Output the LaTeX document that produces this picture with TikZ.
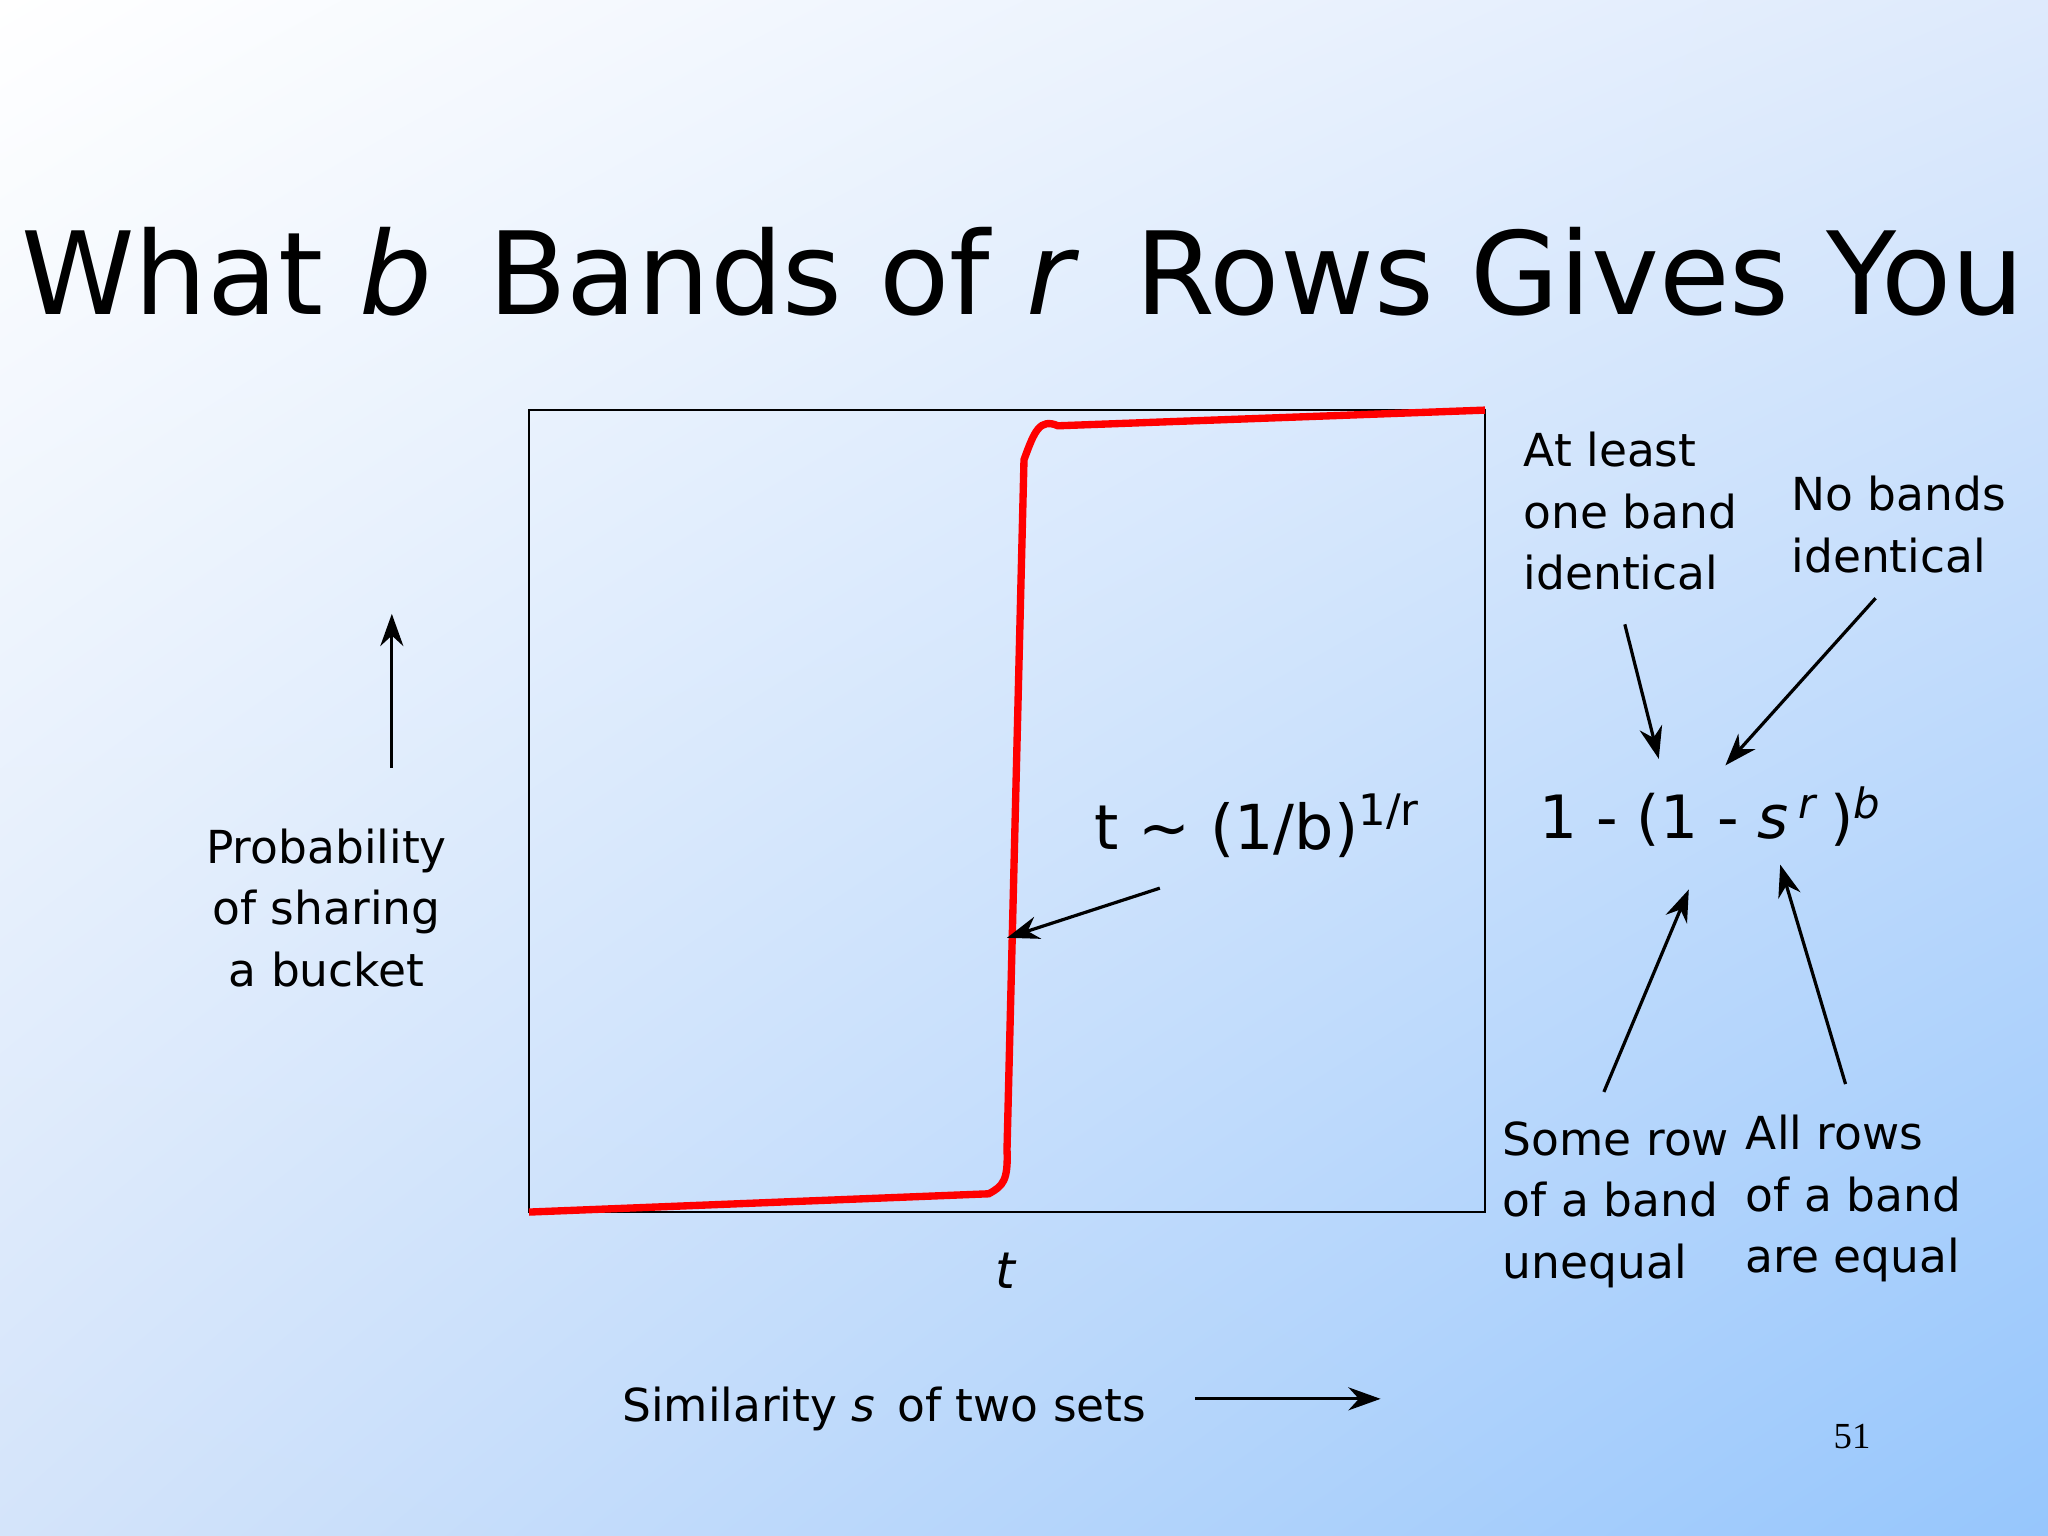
\documentclass[tikz,border=0pt]{standalone}
\usepackage{fontspec}
\usetikzlibrary{shadings,arrows.meta}
\setmainfont{DejaVu Sans}
\newfontfamily\serifnum{Liberation Serif}
\definecolor{bgA}{RGB}{222,234,252}
\definecolor{bgB}{RGB}{212,228,250}
\definecolor{bgC}{RGB}{150,198,252}
\begin{document}
\begin{tikzpicture}[x=0.01cm,y=-0.01cm,
  lbl/.style={inner sep=0pt,font=\fontsize{9.9pt}{13.4pt}\selectfont},
  arr/.style={-{Stealth[length=7pt,width=5pt]},black,line width=0.7pt}]
\useasboundingbox (0,0) rectangle (1568,1176);
\shade[upper left=white, upper right=bgA, lower left=bgB, lower right=bgC]
  (0,0) rectangle (1568,1176);
\node[inner sep=0pt,font=\fontsize{25pt}{28pt}\selectfont] (title) at (783,208) {What \textit{b}\, Bands of \textit{r}\, Rows Gives You};
\draw[line width=0.6pt] (405,314) rectangle (1137,928);
\draw[red,line width=1.6pt] (405,928) -- (757,914) .. controls (768,908) and (772,904) .. (771,880) -- (784,352) .. controls (792,330) and (796,320) .. (810,326) -- (1137,314);
\node[lbl,align=center] (prob) at (250,695) {Probability\\of sharing\\a bucket};
\coordinate (va) at (300,588); \coordinate (vb) at (300,470);
\draw[arr] (va) -- (vb);
\node[lbl,font=\fontsize{11pt}{13.4pt}\itshape] (t) at (770,973) {t};
\node[lbl] (sim) at (677,1079) {Similarity \textit{s}\, of two sets};
\coordinate (ha) at (915,1071); \coordinate (hb) at (1057,1071);
\draw[arr] (ha) -- (hb);
\node[inner sep=0pt,font=\serifnum\fontsize{8pt}{9pt}\selectfont] (pg) at (1418,1100) {51};
\node[inner sep=0pt,font=\fontsize{13.5pt}{16pt}\selectfont] (tf) at (963,632) {t \textasciitilde{} (1/b)\textsuperscript{1/r}};
\coordinate (ta) at (888,680); \coordinate (tb) at (771,718);
\draw[arr] (ta) -- (tb);
\node[inner sep=0pt,font=\fontsize{13pt}{16pt}\selectfont] (eq) at (1310,625) {1 - (1 - \textit{s}\,\textsuperscript{\textit{r}}\,)\textsuperscript{\textit{b}}};
\node[lbl,align=left,anchor=north west] (al) at (1166,330) {At least\\one band\\identical};
\node[lbl,align=left,anchor=north west] (nb) at (1371,364) {No bands\\identical};
\node[lbl,align=left,anchor=north west] (sr) at (1150,858) {Some row\\of a band\\unequal};
\node[lbl,align=left,anchor=north west] (ar) at (1336,853) {All rows\\of a band\\are equal};
\coordinate (a1) at (1244,478); \coordinate (a2) at (1270,581);
\coordinate (b1) at (1436,458); \coordinate (b2) at (1321,586);
\coordinate (c1) at (1228,836); \coordinate (c2) at (1293,681);
\coordinate (d1) at (1413,830); \coordinate (d2) at (1363,662);
\draw[arr] (a1) -- (a2);
\draw[arr] (b1) -- (b2);
\draw[arr] (c1) -- (c2);
\draw[arr] (d1) -- (d2);
\end{tikzpicture}
\end{document}
